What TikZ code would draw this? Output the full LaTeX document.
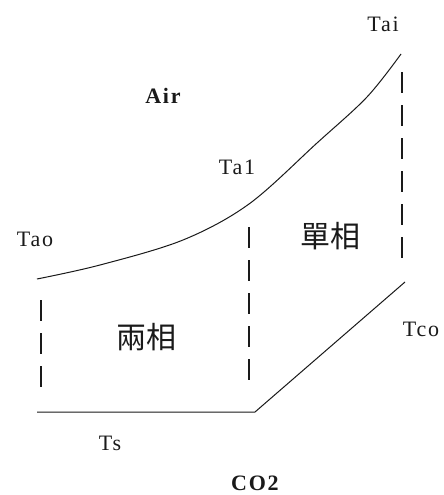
\documentclass[tikz,border=0pt]{standalone}
\usepackage{fontspec}
\setmainfont{Liberation Serif}
\newfontfamily\latin[LetterSpace=8]{Liberation Serif}
\newfontfamily\cjk{Noto Sans CJK TC}
\usepackage{tikz}
\usetikzlibrary{positioning}
\definecolor{tinta}{HTML}{1A1A1A}
\tikzset{
  etiq/.style={font=\latin\fontsize{22}{24}\selectfont,text=tinta,inner sep=0pt},
  etiqb/.style={etiq,font=\latin\fontsize{22}{24}\selectfont\bfseries},
  fase/.style={font=\cjk\fontsize{30}{32}\selectfont,text=tinta,inner sep=0pt},
  linea/.style={draw=tinta,line width=1pt,line join=round},
  guia/.style={draw=tinta,line width=1.5pt,dash pattern=on 21pt off 12pt},
}
\begin{document}
\begin{tikzpicture}[x=1pt,y=-1pt]
  \useasboundingbox[fill=white] (0,0) rectangle (444,495);
  % air side
  \coordinate (ao) at (37,279);
  \coordinate (a1) at (249,204);
  \coordinate (ai) at (401,54);
  % CO2 side
  \coordinate (s0) at (37,412);
  \coordinate (s1) at (255,412);
  \coordinate (co) at (405,282);
  \draw[linea] plot[smooth,tension=0.55] coordinates {(ao) (100,265) (183,240) (a1) (317,143) (367,97) (ai)};
  \draw[linea] (s0) -- (s1) -- (co);
  \coordinate (g1a) at (41,300);  \coordinate (g1b) at (41,389);
  \coordinate (g2a) at (249,227); \coordinate (g2b) at (249,387);
  \coordinate (g3a) at (402,72);  \coordinate (g3b) at (402,264);
  \draw[guia] (g1a) -- (g1b);
  \draw[guia] (g2a) -- (g2b);
  \draw[guia] (g3a) -- (g3b);
  \node[etiq] (tai) at (383,24) {Tai};
  \node[etiqb] (air) at (163,96) {Air};
  \node[etiq] (ta1) at (237,167) {Ta1};
  \node[etiq] (tao) at (35,239) {Tao};
  \node[fase] (uno) at (330,236) {單相};
  \node[fase] (dos) at (146,337) {兩相};
  \node[etiq] (tco) at (421,329) {Tco};
  \node[etiq] (ts) at (110,443) {Ts};
  \node[etiqb] (co2) at (255,483) {CO2};
\end{tikzpicture}
\end{document}
